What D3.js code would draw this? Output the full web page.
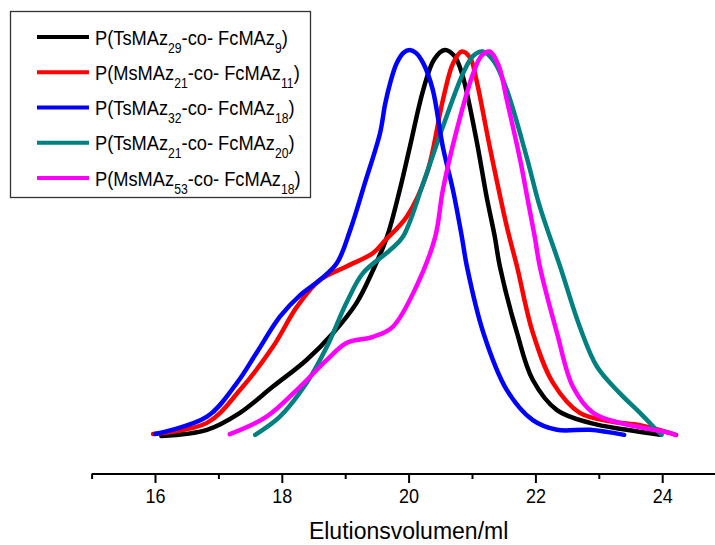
<!DOCTYPE html>
<html><head><meta charset="utf-8">
<script src="https://cdn.jsdelivr.net/npm/d3@7"></script>
<style>body{margin:0;background:#fff}svg{display:block}</style>
</head><body>
<svg id="chart" width="715" height="545"></svg>
<script>
// ---- data (normalised intensity vs elution volume in ml) ----
const seriesNames = [
  "P(TsMAz_{29}-co- FcMAz_{9})",
  "P(MsMAz_{21}-co- FcMAz_{11})",
  "P(TsMAz_{32}-co- FcMAz_{18})",
  "P(TsMAz_{21}-co- FcMAz_{20})",
  "P(MsMAz_{53}-co- FcMAz_{18})"
];
const seriesColors = ["#000000", "#ff0000", "#0000ff", "#008080", "#ff00ff"];

const blackX = [16.10,16.82,17.34,17.86,18.39,18.81,19.18,19.44,19.66,19.86,20.02,20.23,20.40,20.57,20.72,20.84,21.07,21.23,21.36,21.44,21.71,21.96,22.34,22.86,23.44,23.97];
const blackY = [0.000,0.016,0.060,0.128,0.197,0.267,0.345,0.430,0.516,0.637,0.749,0.896,0.975,1.000,0.985,0.940,0.767,0.620,0.516,0.439,0.267,0.145,0.067,0.034,0.016,0.003];

const redX = [15.97,16.82,17.34,17.86,18.24,18.60,19.02,19.44,19.62,19.97,20.29,20.54,20.70,20.84,20.97,21.07,21.28,21.55,21.71,21.96,22.28,22.70,23.22,23.65,24.22];
const redY = [0.005,0.034,0.119,0.231,0.335,0.404,0.439,0.474,0.505,0.568,0.681,0.870,0.965,0.996,0.980,0.922,0.749,0.542,0.439,0.267,0.137,0.060,0.037,0.028,0.003];

const blueX = [16.00,16.82,17.29,17.60,17.97,18.29,18.60,18.87,19.08,19.31,19.55,19.63,19.71,19.81,19.92,20.02,20.12,20.23,20.38,20.54,20.70,20.84,20.92,21.18,21.55,21.96,22.34,22.86,23.40];
const blueY = [0.005,0.050,0.137,0.215,0.309,0.365,0.404,0.448,0.534,0.655,0.785,0.860,0.915,0.965,0.993,1.000,0.992,0.966,0.898,0.749,0.637,0.516,0.439,0.267,0.119,0.041,0.016,0.016,0.003];

const tealX = [17.58,17.97,18.39,18.71,19.02,19.28,19.71,19.91,20.23,20.54,20.86,21.02,21.17,21.35,21.55,21.86,22.07,22.39,22.70,22.97,23.33,23.65,23.91,23.99];
const tealY = [0.003,0.050,0.137,0.231,0.345,0.422,0.482,0.516,0.655,0.801,0.940,0.985,0.996,0.970,0.896,0.724,0.594,0.439,0.283,0.180,0.111,0.060,0.016,0.003];

const magentaX = [17.18,17.76,18.29,18.71,19.02,19.44,19.75,20.13,20.42,20.54,20.76,21.02,21.15,21.28,21.42,21.55,21.76,21.88,21.99,22.07,22.34,22.59,22.91,23.33,24.12,24.20];
const magentaY = [0.005,0.050,0.128,0.197,0.241,0.257,0.283,0.390,0.516,0.637,0.793,0.940,0.985,0.996,0.960,0.870,0.715,0.611,0.516,0.439,0.267,0.128,0.060,0.034,0.008,0.003];

const seriesX = [blackX, redX, blueX, tealX, magentaX];
const seriesY = [blackY, redY, blueY, tealY, magentaY];

const majorTicks = [16, 18, 20, 22, 24];
const minorTicks = [15, 17, 19, 21, 23, 25];
const xTitle = "Elutionsvolumen/ml";

// ---- drawing ----
const FONT = "'Liberation Sans',Arial,sans-serif";
const svg = d3.select("#chart");
const x = d3.scaleLinear().domain([15, 25]).range([91.6, 725.6]);
const y = d3.scaleLinear().domain([0, 1]).range([436, 50]);

const axisY = 474;
const gAxis = svg.append("g").attr("transform", `translate(0,${axisY})`);
gAxis.call(d3.axisBottom(x).tickValues(minorTicks).tickSize(5).tickSizeOuter(0).tickFormat(""));
gAxis.call(g => g.select(".domain").remove());
const gMajor = svg.append("g").attr("transform", `translate(0,${axisY})`)
  .call(d3.axisBottom(x).tickValues(majorTicks).tickSize(9).tickSizeOuter(0).tickPadding(6).tickFormat(d3.format("d")));
gMajor.select(".domain").attr("stroke-width", 2.2).attr("d", `M${x(15)},0H715`);
svg.selectAll(".tick line").attr("stroke", "#000").attr("stroke-width", 2);
gMajor.selectAll(".tick text").attr("font-family", FONT).attr("font-size", 20).attr("fill", "#000")
  .attr("transform", "scale(0.9,1)");

svg.append("text").attr("transform", `translate(${x(20)},539)`).attr("text-anchor", "middle")
  .attr("font-family", FONT).attr("font-size", 23).attr("fill", "#000").text(xTitle);

const line = d3.line().x(d => x(d[0])).y(d => y(d[1])).curve(d3.curveCatmullRom.alpha(0.5));
const drawOrder = [0, 1, 3, 2, 4];
drawOrder.forEach(i => {
  const pts = seriesX[i].map((v, k) => [v, seriesY[i][k]]);
  svg.append("path").datum(pts).attr("d", line).attr("fill", "none")
    .attr("stroke", seriesColors[i]).attr("stroke-width", 4.5)
    .attr("stroke-linejoin", "round").attr("stroke-linecap", "round");
});

// legend
const lg = svg.append("g");
lg.append("rect").attr("x", 10.5).attr("y", 11.5).attr("width", 300).attr("height", 186)
  .attr("fill", "#fff").attr("stroke", "#333").attr("stroke-width", 1.3);
const rowY = d3.scaleLinear().domain([0, 4]).range([37, 178]);
seriesNames.forEach((name, i) => {
  const yy = rowY(i);
  lg.append("line").attr("x1", 37).attr("x2", 89).attr("y1", yy).attr("y2", yy)
    .attr("stroke", seriesColors[i]).attr("stroke-width", 4);
  const t = lg.append("text").attr("transform", `translate(95,${yy + 7.5}) scale(0.87,1)`)
    .attr("font-family", FONT).attr("font-size", 21).attr("fill", "#000");
  const parts = name.split(/(_\{[^}]*\})/).filter(s => s.length);
  let shifted = false;
  parts.forEach(p => {
    if (p.startsWith("_{")) {
      t.append("tspan").attr("dy", 8).attr("font-size", 14).text(p.slice(2, -1));
      shifted = true;
    } else {
      const ts = t.append("tspan").text(p);
      if (shifted) { ts.attr("dy", -8); shifted = false; }
    }
  });
});
</script>
</body></html>
